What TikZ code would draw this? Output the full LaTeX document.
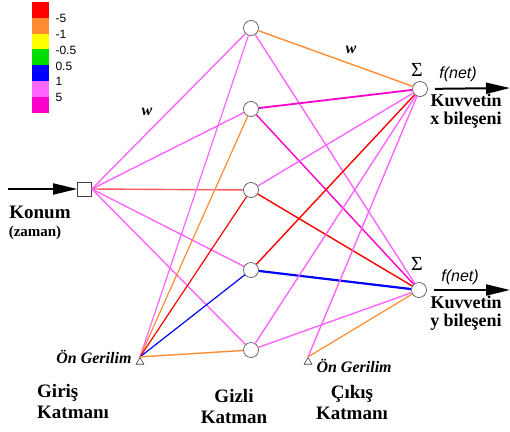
\documentclass[tikz,border=0pt]{standalone}
\usepackage{fontspec}
\setmainfont{Liberation Serif}
\newfontfamily\arialfont{Liberation Sans}
\usetikzlibrary{arrows.meta,shapes.geometric}
\definecolor{wred}{HTML}{FF0000}
\definecolor{wsalmon}{HTML}{FF5A64}
\definecolor{worange}{HTML}{FF8C33}
\definecolor{wyellow}{HTML}{FFFF00}
\definecolor{wgreen}{HTML}{00DD00}
\definecolor{wblue}{HTML}{0000FF}
\definecolor{wpink}{HTML}{FF66FF}
\definecolor{wmagenta}{HTML}{FF00CC}
\begin{document}
\begin{tikzpicture}[x=1pt, y=-1pt,
    every node/.style={font=\fontsize{19}{21}\selectfont\bfseries},
    neuron/.style={circle, draw=black!65, fill=white, minimum size=15pt, inner sep=0pt, line width=0.7pt},
    inbox/.style={rectangle, draw=black!75, fill=white, minimum size=14pt, inner sep=0pt, line width=0.7pt},
    bias/.style={regular polygon, regular polygon sides=3, draw=black!75, fill=white, minimum size=9pt, inner sep=0pt, line width=0.6pt},
    legbox/.style={rectangle, minimum width=16.5pt, minimum height=15.8pt, inner sep=0pt},
    leglab/.style={anchor=west, font=\arialfont\fontsize{12}{12}\selectfont},
    outlab/.style={inner sep=0pt, align=center, font=\fontsize{18}{18}\selectfont\bfseries},
    wgt/.style={line width=1.4pt},
    thin/.style={line width=1.2pt},
    heavy/.style={line width=2.2pt},
    bigarrow/.style={-{Triangle[length=24pt,width=11pt]}, line width=2pt, black},
    biaslab/.style={font=\fontsize{16}{18}\selectfont\bfseries\itshape},
    fnet/.style={font=\arialfont\fontsize{16}{18}\selectfont\itshape},
]
\useasboundingbox (0,0) rectangle (510,431);

% legend
\foreach \c [count=\i from 0] in {wred,worange,wyellow,wgreen,wblue,wpink,wmagenta}
  \node[legbox, fill=\c] (leg\i) at (40.3, 9.9+15.8*\i) {};
\foreach \t [count=\i from 0] in {-5,-1,-0.5,0.5,1,5}
  \node[leglab] (lab\i) at (52, 18.5+15.8*\i) {\t};

\node[inbox] (in) at (84.5,189) {};
\node[neuron] (h1) at (251,28) {};
\node[neuron] (h2) at (251,109) {};
\node[neuron] (h3) at (251,190) {};
\node[neuron] (h4) at (251,270) {};
\node[neuron] (h5) at (251,350) {};
\node[neuron] (o1) at (420,89) {};
\node[neuron] (o2) at (419,290) {};
\node[bias] (b1) at (140,362) {};
\node[bias] (b2) at (308,362) {};

\draw[wgt, wpink] (in.east) -- (h1);
\draw[wgt, wpink] (in.east) -- (h2);
\draw[wgt, wsalmon] (in.east) -- (h3);
\draw[wgt, wpink] (in.east) -- (h4);
\draw[wgt, wpink] (in.east) -- (h5);

\draw[thin, wpink] (b1.corner 1) -- (h1);
\draw[thin, worange] (b1.corner 1) -- (h2);
\draw[thin, wred] (b1.corner 1) -- (h3);
\draw[thin, wblue] (b1.corner 1) -- (h4);
\draw[wgt, worange] (b1.corner 1) -- (h5);

\draw[wgt, worange] (h1) -- (o1);
\draw[wgt, wpink] (h1) -- (o2);
\draw[line width=1.8pt, wmagenta] (h2) -- (o1);
\draw[wgt, wmagenta] (h2) -- (o2);
\draw[wgt, wpink] (h3) -- (o1);
\draw[wgt, wred] (h3) -- (o2);
\draw[wgt, wred] (h4) -- (o1);
\draw[heavy, wblue] (h4) -- (o2);
\draw[wgt, wpink] (h5) -- (o1);
\draw[wgt, wpink] (h5) -- (o2);
\draw[wgt, wpink] (b2.corner 1) -- (o1);
\draw[thin, worange] (b2.corner 1) -- (o2);

\coordinate (src) at (8,189);
\coordinate (fx) at (510,88);
\coordinate (fy) at (510,290);
\draw[bigarrow] (src) -- (in);
\draw[bigarrow, shorten <=7pt] (o1) -- (fx);
\draw[bigarrow, shorten <=7pt] (o2) -- (fy);

\node[font=\fontsize{16}{18}\selectfont\bfseries\itshape] (w1) at (147,112) {w};
\node[font=\fontsize{16}{18}\selectfont\bfseries\itshape] (w2) at (351,50) {w};

\node[font=\fontsize{20}{22}\selectfont] (s1) at (417,70) {Σ};
\node[font=\fontsize{20}{22}\selectfont] (s2) at (417,264) {Σ};
\node[fnet] (f1) at (458,74) {f(net)};
\node[fnet] (f2) at (460,277) {f(net)};
\node[outlab, anchor=north] (kx) at (466,94) {Kuvvetin\\x bileşeni};
\node[outlab, anchor=north] (ky) at (466,296) {Kuvvetin\\y bileşeni};

\node (konum) at (40,212) {Konum};
\node[font=\fontsize{15}{17}\selectfont\bfseries] (zaman) at (35,233) {(zaman)};
\node[biaslab, anchor=east] (bl1) at (135,357) {Ön Gerilim};
\node[biaslab, anchor=west] (bl2) at (313,366) {Ön Gerilim};

\node[align=left, anchor=north west, inner sep=0pt] (giris) at (37,384) {Giriş\\Katmanı};
\node[align=center, anchor=north, inner sep=0pt] (gizli) at (234,389) {Gizli\\Katman};
\node[align=center, anchor=north, inner sep=0pt] (cikis) at (352,385) {Çıkış\\Katmanı};
\end{tikzpicture}
\end{document}
